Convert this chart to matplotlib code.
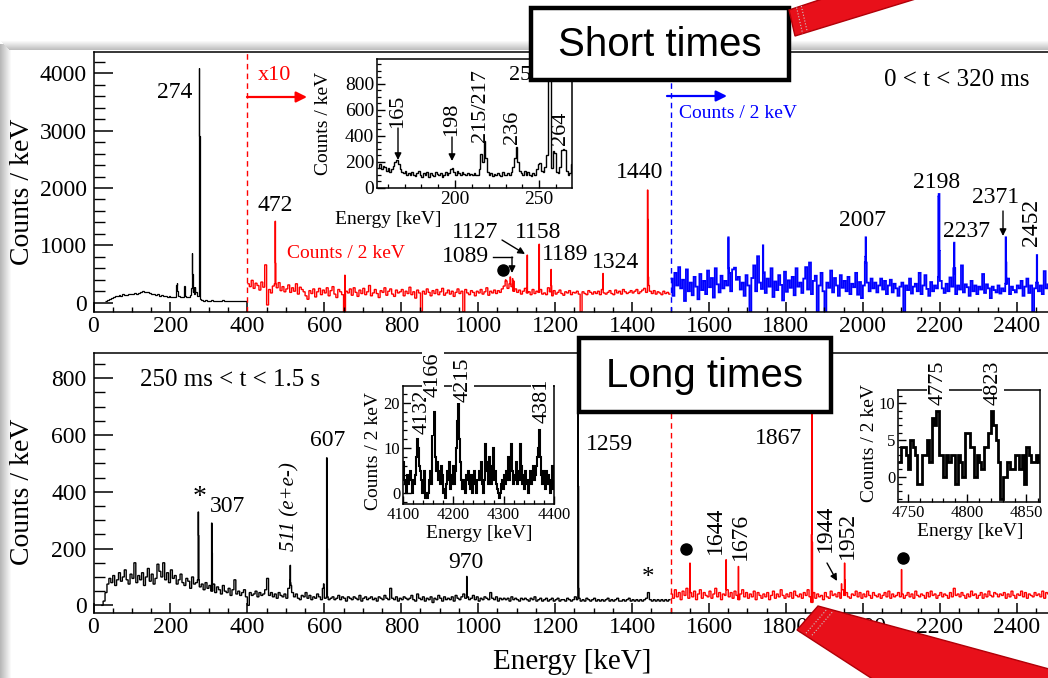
import numpy as np
import matplotlib
matplotlib.use("Agg")
import matplotlib.pyplot as plt
from matplotlib.patches import Rectangle, Polygon, FancyArrowPatch
from matplotlib.lines import Line2D
from matplotlib.ticker import MultipleLocator

# ---------------- data ----------------
# top panel, 0 < t < 320 ms (background in 5 keV steps, peaks in 1 keV bins)
TOP_BLACK_START = 30
TOP_BLACK_BG = [35, 45, 60, 80, 105, 110, 120, 140, 125, 150, 135, 140, 155, 145, 150, 165, 160, 175, 190, 200,
                185, 195, 180, 170, 160, 150, 140, 145, 125, 130, 110, 115, 100, 110, 105, 95, 100, 120, 110, 100,
                105, 115, 105, 100, 140, 180, 150, 180, 120, 60, 40, 35, 40, 30, 35, 40, 30, 35, 30, 35,
                30, 40, 35, 30, 35, 30, 35, 30, 35, 30, 35, 30, 35, 30]
TOP_BLACK_PEAKS = [(215, 300), (216, 260), (217, 350), (218, 200), (236, 290), (237, 200), (254, 250),
                   (255, 600), (256, 870), (257, 500), (259, 260), (260, 270), (263, 250), (264, 280),
                   (265, 180), (273, 900), (274, 4100), (275, 2900), (276, 300)]

TOP_RED_START = 400
TOP_RED_BG = [330, 280, 390, 250, 340, 300, 220, 360, 270, 660,
              -40, 230, 170, 290, 330, 260, 350, 210, 280, 190,
              240, 310, 180, 260, 200, 330, 150, 270, 230, 190,
              120, 60, 210, 160, 240, 100, 190, 250, 140, 220,
              170, 260, 120, 210, 280, 150, 90, 230, 190, 140,
              -160, 200, 170, 240, 130, 260, 180, 110, 220, 160,
              250, 140, 190, 300, 120, 170, 230, 160, 90, 210,
              180, 260, 130, 200, 240, 150, 110, 220, 170, 190,
              230, 120, 200, 160, 270, 140, 190, 80, 220, 170,
              -150, 200, 150, 240, 180, 120, 210, 160, 230, 140,
              190, 250, 130, 170, 220, 150, 200, 110, 180, 240,
              160, 200, -160, 230, 170, 140, 210, 180, 120, 200,
              170, 230, 150, 190, 260, 130, 200, 170, 220, 160,
              210, 180, 240, 290, 380, 250, 330, 280, 200, 240,
              180, 220, 150, 200, 250, 170, 190, 140, 230, 160,
              200, 180, 230, 150, 170, 140, 260, 190, 120, 210,
              150, 180, 220, 160, 130, 190, 170, 210, 140, 180,
              170, 200, 150, -160, 190, 160, 140, 210, 180, 150,
              190, 160, 200, 140, 230, 170, 150, 180, 210, 160,
              140, 220, 170, 200, 150, 230, 190, 160, 180, 210,
              170, 200, 230, 160, 190, 220, 250, 180, 300, 200,
              160, 210, 150, 190, 170, 140, 200, 160, 180, 150]
TOP_RED_PEAKS = [(472, 1420), (473, 690), (653, 480), (1071, 400), (1083, 450), (1089, 420), (1092, 380),
                 (1127, 830), (1158, 1020), (1189, 580), (1190, 300), (1324, 510), (1440, 1965),
                 (1441, 1450), (1442, 450)]

TOP_BLUE_START = 1500
TOP_BLUE_BG = [420, 120, 520, 300, 620, 250, 400, 30, 580, 200,
               350, 130, 450, 280, 60, 500, 220, 380, 150, 560,
               270, 430, 90, 600, 320, 180, 470, 250, 380, 300,
               520, 200, 580, 610, 400, 450, 230, 350, 120, 480,
               300, -160, 430, 650, 200, 810, 350, 240, 530, 170,
               420, 280, 600, 100, 370, 220, 480, 310, 40, 540,
               190, 390, 260, 450, 130, 600, 280, 350, 170, 420,
               620, 230, 700, 150, 380, 470, -160, 300, 520, 200,
               -160, 350, 260, 560, 180, 430, 300, 120, 480, 260,
               380, 200, 450, 150, 330, 270, 520, 140, 360, 80,
               300, 700, 350, 200, 420, 250, 350, 180, 300, 420,
               230, 380, 150, 300, 400, 180, 330, 250, 120, 280,
               350, -160, 300, 220, 420, 160, 280, 330, 200, 520,
               150, 300, 480, 240, 120, 360, 200, 300, 250, 450,
               380, 250, 170, 330, 200, 440, 280, 600, 150, 300,
               230, 650, 180, 320, 270, 120, 380, 200, 300, 150,
               280, 230, 500, 170, 320, 250, 80, 280, 220, 180,
               300, 160, 250, 200, 330, 420, 150, 280, 220, 180,
               300, 250, 380, 120, 280, 420, 170, 300, -160, 250,
               350, 200, 300, 150, 550, 250, 320, 180, 260, 200]
TOP_BLUE_PEAKS = [(1650, 1140), (1651, 600), (1740, 1000), (2006, 800), (2007, 1140), (2008, 700),
                  (2196, 1850), (2197, 1895), (2198, 1895), (2199, 900), (2237, 1046), (2238, 500),
                  (2371, 1140), (2372, 700), (2452, 830)]

# inset of top panel (1 keV bins from 154 keV)
INSET_TOP_START = 154
INSET_TOP = [150, 180, 140, 170, 160, 130, 150, 120, 140, 170, 200, 210, 180, 140, 120, 110,
             130, 100, 110, 95, 120, 100, 90, 115, 130, 100,
             85, 110, 95, 120, 80, 110, 100, 90, 120, 105,
             95, 110, 80, 100, 120, 95, 110, 140, 155, 120,
             100, 130, 110, 95, 120, 105, 100, 110, 95, 105,
             100, 110, 95, 100, 140, 260, 200, 360, 230, 120,
             100, 110, 90, 105, 95, 110, 100, 90, 120, 100,
             95, 110, 100, 120, 160, 230, 310, 200, 130, 110,
             100, 130, 95, 120, 100, 90, 110, 100, 140, 180,
             190, 130, 120, 160, 250, 1200, 1200, 150, 280, 270,
             120, 110, 160, 290, 300, 290, 130, 100, 110, 180]

# bottom panel, 250 ms < t < 1.5 s
BOT_BLACK_START = 20
BOT_BLACK_BG = [0, 15, 45, 75, 95, 80, 105, 70, 90, 115,
                85, 100, 125, 90, 75, 110, 95, 150, 80, 105,
                90, 115, 70, 100, 130, 85, 110, 75, 95, 145,
                120, 100, 150, 90, 115, 80, 125, 95, 105, 75,
                90, 110, 80, 70, 95, 85, 60, 100, 75, 80,
                90, 65, 75, 55, 80, 60, 70, 50, 75, 45,
                65, 55, 40, 70, 50, 45, 60, 35, 55, 90,
                40, 50, 35, 45, 55, 30, 0, 45, 35, 40,
                50, 30, 45, 35, 40, 55, 95, 35, 45, 30,
                40, 25, 45, 35, 30, 40, 25, 60, 70, 45,
                30, 40, 25, 20, 35, 30, 45, 25, 35, 20,
                30, 25, 40, 30, 20, 60, 25, 30, 20, 25,
                30, 20, 25, 35, 20, 30, 25, 15, 30, 25,
                20, 30, 25, 20, 35, 15, 25, 30, 20, 25,
                30, 20, 25, 15, 30, 25, 20, 35, 25, 20,
                60, 25, 20, 30, 15, 25, 20, 30, 25, 20,
                25, 35, 20, 15, 40, 25, 20, 30, 15, 25,
                20, 30, 10, 25, 20, 35, 25, 15, 30, 20,
                25, 20, 30, 15, 35, 25, 20, 30, 40, 25,
                30, 20, 25, 35, 20, 30, 15, 25, 20, 30,
                25, 20, 45, 25, 20, 30, 15, 25, 20, 25,
                20, 25, 15, 30, 20, 25, 20, 15, 25, 20,
                25, 20, 15, 25, 20, 30, 15, 20, 25, 15,
                20, 25, 15, 20, 25, 15, 20, 25, 15, 20,
                20, 15, 25, 20, 15, 20, 30, 20, 25, 15,
                20, 15, 25, 20, 15, 20, 25, 15, 20, 15,
                20, 15, 20, 25, 15, 20, 15, 20, 25, 15,
                15, 20, 15, 20, 25, 15, 20, 15, 20, 15,
                20, 15, 20, 25, 45, 20, 15, 20, 15, 20,
                15, 20, 15, 20, 15, 20]
BOT_BLACK_PEAKS = [(272, 329), (273, 246), (307, 290), (308, 184), (510, 90), (511, 141), (512, 80),
                   (598, 76), (606, 520), (607, 200), (970, 102), (1259, 760), (1260, 420), (1261, 60)]

BOT_RED_START = 1500
BOT_RED_BG = [40, 25, 55, 30, 45, 20, 50, 35, 60, 25,
              45, 30, 50, 20, 40, 55, 25, 45, 35, 30,
              50, 25, 40, 60, 30, 45, 20, 40, 35, 55,
              30, 45, 25, 50, 35, 20, 40, 55, 30, 45,
              25, 40, 30, 50, 20, 45, 35, 25, 40, 30,
              45, 20, 35, 50, 25, 40, 30, 55, 35, 25,
              40, 30, 45, 25, 50, 35, 30, 40, 25, 45,
              35, 55, 30, 10, 45, 25, 40, 30, 35, 20,
              45, 30, 25, 50, 35, 40, 30, 45, 25, 55,
              35, 45, 30, 25, 40, 35, 50, 30, 45, 25,
              40, 30, 50, 35, 25, 45, 35, 30, 40, 25,
              35, 45, 30, 50, 25, 40, 30, 35, 45, 30,
              40, 25, 35, 45, 30, 40, 25, 50, 35, 30,
              40, 35, 25, 45, 30, 50, 35, 40, 25, 35,
              45, 30, 40, 35, 25, 45, 30, 60, 35, 40,
              30, 45, 35, 25, 40, 30, 50, 35, 40, 25,
              35, 45, 25, 40, 30, 50, 35, 30, 45, 40,
              30, 40, 35, 45, 25, 40, 30, 50, 35, 25,
              40, 35, 50, 30, 45, 25, 40, 35, 30, 45,
              35, 40, 30, 50, 25, 45, 40, 35, 30, 40]
BOT_RED_PEAKS = [(1550, 149), (1644, 161), (1676, 137), (1866, 250), (1867, 1500), (1868, 223),
                 (1944, 76), (1952, 149), (1953, 90), (2100, 126)]

# insets of bottom panel (2 keV bins)
INSET_B1_START = 4100
INSET_B1 = [7, 3, 2, 0, 4, 2, 3, 5, 3, 0, 3, 2, 4, 8, 12, 10, 6, 5, 3, 0,
            2, 5, -1, 0, -1, 0, 3, 5, 2, 13, 14, 18, 8, 5, 7, 3, 5, 2, 6, 4,
            0, 1, -1, 2, 5, 3, 7, 1, 4, 2, 6, 2, 5, 10, 16, 20, 12, 7, 3, 1,
            3, 2, 0, 4, 3, 5, 2, 1, 4, 0, 3, 5, 2, 0, 3, 5, 3, 7, 2, 0,
            3, 11, 5, 7, 2, 8, 4, 2, 6, 10, 3, 5, 2, 1, 0, -1, 0, 2, 3, 1,
            4, 2, 5, 3, 8, 3, 6, 11, 5, 2, 3, 4, 7, 2, 5, 3, 11, 6, 2, 4,
            1, 5, 3, 2, 0, 3, 5, 2, 4, 6, 3, 4, 6, 8, 10, 14, 8, 4, 2, 5,
            3, 1, 5, 2, 4, 2, 0, 3, 6, 1]
INSET_B2_START = 4742
INSET_B2 = [2, 4, 4, 3, 1, 5, 4, 3, -1, -1, 3, 3, 5, 2, 8, 7, 9, 3, 3, 0,
            3, 2, 3, 3, -1, 3, 2, 0, 6, 6, 4, 4, 0, 3, 2, 1, 4, 4, 6, 9,
            7, 5, 2, -3, 0, 0, 2, 1, 1, 3, 3, 1, 3, -1, 4, 3, 2, 2, 3, 2]

# ---------------- figure ----------------
W, H = 1048, 678
plt.rcParams['font.family'] = ['Liberation Serif', 'DejaVu Serif']
plt.rcParams['axes.linewidth'] = 1.1
fig = plt.figure(figsize=(W / 100, H / 100), dpi=100)
fig.patch.set_facecolor('white')
SANS = ['Liberation Sans', 'DejaVu Sans']
KEV_PX = 0.3847


def fx(x):
    return x / W


def fy(y):
    return 1 - y / H


def add_ax(l, t, r, b, **kw):
    return fig.add_axes([fx(l), fy(b), (r - l) / W, (b - t) / H], **kw)


def T(x, y, s, size=17, rot=0, color='black', ha='center', va='center', **kw):
    return fig.text(fx(x), fy(y), s, fontsize=size, rotation=rot, color=color,
                    ha=ha, va=va, **kw)


def arrow(p0, p1, color='black', lw=1.2, ms=12, z=12):
    a = FancyArrowPatch((fx(p0[0]), fy(p0[1])), (fx(p1[0]), fy(p1[1])),
                        transform=fig.transFigure, arrowstyle='-|>',
                        mutation_scale=ms, color=color, lw=lw, zorder=z,
                        shrinkA=0, shrinkB=0)
    fig.add_artist(a)


def spectrum(start, width, bg, peaks):
    fine = np.repeat(np.asarray(bg, float), width)
    for e, h in peaks:
        fine[e - start] = h
    edges = start + np.arange(len(fine) + 1)
    return edges, fine


def binned(start, width, vals):
    vals = np.asarray(vals, float)
    return start + width * np.arange(len(vals) + 1), vals


def style_main(ax, ymaj, ymin):
    ax.xaxis.set_major_locator(MultipleLocator(200))
    ax.xaxis.set_minor_locator(MultipleLocator(50))
    ax.yaxis.set_major_locator(MultipleLocator(ymaj))
    ax.yaxis.set_minor_locator(MultipleLocator(ymin))
    ax.tick_params(axis='y', which='major', direction='in', length=13.5, width=1.1,
                   labelsize=17, pad=5)
    ax.tick_params(axis='y', which='minor', direction='in', length=8, width=1.0)
    ax.tick_params(axis='x', which='major', direction='in', length=7, width=1.1,
                   labelsize=17, pad=3)
    ax.tick_params(axis='x', which='minor', direction='in', length=3.5, width=1.0)
    ax.set_xlim(0, 2500)


# ---- top main panel ----
ax1 = add_ax(93.5, 52, 93.5 + 2500 * KEV_PX, 311.7)
ax1.set_ylim(-157, 4371)
style_main(ax1, 1000, 200)
e, v = spectrum(TOP_BLACK_START, 5, TOP_BLACK_BG, TOP_BLACK_PEAKS)
ax1.stairs(v, e, color='black', lw=0.9, baseline=None)
e, v = spectrum(TOP_RED_START, 5, TOP_RED_BG, TOP_RED_PEAKS)
ax1.stairs(v, e, color='#ff0000', lw=1.0, baseline=None)
e, v = spectrum(TOP_BLUE_START, 5, TOP_BLUE_BG, TOP_BLUE_PEAKS)
ax1.stairs(v, e, color='#0000ff', lw=1.3, baseline=None)
ax1.axvline(400, color='#ff0000', lw=1.0, ls=(0, (4, 3)))
ax1.axvline(1500, color='#0000ff', lw=1.0, ls=(0, (4, 3)))
ax1.plot([1064], [570], 'o', color='black', ms=8, clip_on=False)

# ---- bottom main panel ----
ax2 = add_ax(93.5, 353.3, 93.5 + 2500 * KEV_PX, 613.3)
ax2.set_ylim(-28, 888)
style_main(ax2, 200, 50)
e, v = spectrum(BOT_BLACK_START, 5, BOT_BLACK_BG, BOT_BLACK_PEAKS)
ax2.stairs(v, e, color='black', lw=1.0, baseline=None)
e, v = spectrum(BOT_RED_START, 5, BOT_RED_BG, BOT_RED_PEAKS)
ax2.stairs(v, e, color='#ff0000', lw=1.0, baseline=None)
ax2.axvline(1500, color='#ff0000', lw=1.0, ls=(0, (4, 3)))
ax2.plot([1540, 2104], [197, 166], 'o', color='black', ms=8, clip_on=False)


# ---- insets ----
def style_inset(ax, xmaj, xmin, ymaj, ymin, lsize):
    ax.xaxis.set_major_locator(MultipleLocator(xmaj))
    ax.xaxis.set_minor_locator(MultipleLocator(xmin))
    ax.yaxis.set_major_locator(MultipleLocator(ymaj))
    ax.yaxis.set_minor_locator(MultipleLocator(ymin))
    ax.tick_params(which='major', direction='in', length=6, width=1.0, labelsize=lsize, pad=2)
    ax.tick_params(which='minor', direction='in', length=3, width=0.9)
    ax.set_facecolor('white')


axi = add_ax(377, 59, 572, 188.3, zorder=5)
axi.set_xlim(153.6, 269.5)
axi.set_ylim(-5, 990)
style_inset(axi, 50, 10, 200, 50, 14)
e, v = binned(INSET_TOP_START, 1, INSET_TOP)
axi.stairs(v, e, color='black', lw=1.0, baseline=None)
T(324, 123, 'Counts / keV', size=14, rot=90)
T(388, 220, 'Energy [keV]', size=14)

axb1 = add_ax(403, 386, 554, 504, zorder=5)
axb1.set_xlim(4100, 4400)
axb1.set_ylim(-2.4, 23.8)
style_inset(axb1, 100, 20, 10, 2, 12)
e, v = binned(INSET_B1_START, 2, INSET_B1)
axb1.stairs(v, e, color='black', lw=1.5, baseline=None)
T(374, 451, 'Counts / 2 keV', size=14, rot=90)
T(479, 533, 'Energy [keV]', size=14)

axb2 = add_ax(898, 390, 1040, 502, zorder=5)
axb2.set_xlim(4741.6, 4861.5)
axb2.set_ylim(-3.45, 11.8)
style_inset(axb2, 50, 10, 5, 1, 12)
e, v = binned(INSET_B2_START, 2, INSET_B2)
axb2.stairs(v, e, color='black', lw=2.0, baseline=None)
T(870, 443, 'Counts / 2 keV', size=14, rot=90)
T(970, 532, 'Energy [keV]', size=14)

# ---- axis titles ----
T(23, 192, 'Counts / keV', size=20, rot=90)
T(23, 492, 'Counts / keV', size=20, rot=90)
T(572, 662, 'Energy [keV]', size=21)

# ---- top annotations ----
T(175, 93, '274')
T(275, 206, '472')
T(274, 75, 'x10', size=16, color='#ff0000')
arrow((247, 97), (307, 97), color='#ff0000', lw=1.6, ms=16)
T(346, 253, 'Counts / 2 keV', size=14, color='#ff0000')
T(640, 173, '1440')
T(475, 233, '1127')
T(538, 233, '1158')
T(465, 257, '1089')
T(565, 255, '1189')
T(616, 263, '1324')
T(862, 220, '2007')
T(937, 182, '2198')
T(967, 232, '2237')
T(996, 197, '2371')
T(1031, 222, '2452', rot=90)
arrow((667, 96), (727, 96), color='#0000ff', lw=1.6, ms=16)
T(738, 114, 'Counts / 2 keV', size=14, color='#0000ff')
T(957, 80, '0 < t < 320 ms', size=18)
arrow((502, 240), (525, 254), lw=1.0, ms=10)
fig.add_artist(Line2D([fx(493), fx(512)], [fy(257), fy(257)], color='black', lw=1.0,
                      transform=fig.transFigure, zorder=12))
arrow((512, 257), (512, 273), lw=1.0, ms=10)
arrow((1003, 211), (1003, 236), lw=1.0, ms=10)
# inset labels
T(398, 111, '165', size=16, rot=90, zorder=8)
T(452, 119, '198', size=16, rot=90, zorder=8)
T(481, 106, '215/217', size=16, rot=90, zorder=8)
T(513, 127, '236', size=16, rot=90, zorder=8)
T(560, 128, '264', size=16, rot=90, zorder=8)
T(526, 75, '256', size=16, zorder=8)
arrow((398, 128), (398, 160), lw=1.0, ms=10)
arrow((452, 137), (452, 161), lw=1.0, ms=10)

# ---- bottom annotations ----
WB = dict(boxstyle='square,pad=0.05', fc='white', ec='none')
T(230, 380, '250 ms < t < 1.5 s', size=18)
T(200, 497, '*', size=20)
T(227, 507, '307')
T(290, 507, '511 (e+e-)', size=15, rot=90, style='italic')
T(328, 440, '607')
T(466, 563, '970')
T(609, 445, '1259')
T(648, 578, '*', size=18)
T(715, 530, '1644', rot=90)
T(740, 536, '1676', rot=90)
T(778, 438, '1867')
T(825, 528, '1944', rot=90)
T(847, 535, '1952', rot=90)
arrow((827, 563), (837, 581), lw=1.0, ms=10)
T(422, 412, '4132', size=16, rot=90, zorder=8, bbox=WB)
T(433, 375, '4166', size=16, rot=90, zorder=8, bbox=WB)
T(463, 380, '4215', size=16, rot=90, zorder=8, bbox=WB)
T(542, 401, '4381', size=16, rot=90, zorder=8, bbox=WB)
T(938, 383, '4775', size=16, rot=90, zorder=8, bbox=WB)
T(993, 383, '4823', size=16, rot=90, zorder=8, bbox=WB)

# ---- slide decoration: shadow frame, boxes, red pointers ----
for i in range(12):
    g = 0.72 + 0.28 * i / 11
    fig.add_artist(Rectangle((fx(i), fy(678)), 1 / W, (678 - 44) / H, transform=fig.transFigure,
                             fc=(g, g, g), ec='none', zorder=1))
for i in range(10):
    g = 1.0 - 0.25 * i / 9
    fig.add_artist(Rectangle((fx(i), fy(41 + i)), (W - i) / W, 1 / H, transform=fig.transFigure,
                             fc=(g, g, g), ec='none', zorder=1))

for (l, t, r, b, s, cx, cy) in [(531, 8, 789, 80, 'Short times', 660, 45),
                                 (579, 338, 831, 412, 'Long times', 705, 376)]:
    fig.add_artist(Rectangle((fx(l), fy(b)), (r - l) / W, (b - t) / H, transform=fig.transFigure,
                             fc='white', ec='black', lw=3.2, zorder=20))
    fig.text(fx(cx), fy(cy), s, fontsize=29, family=SANS, ha='center', va='center', zorder=21)

# red pointer, top right
fig.add_artist(Polygon([(fx(789), fy(10)), (fx(795), fy(36)), (fx(1010), fy(-30)), (fx(1000), fy(-60))],
                       closed=True, transform=fig.transFigure, fc='#e8101a', ec='#b00008', lw=1,
                       zorder=22))
for d in (8, 13):
    fig.add_artist(Line2D([fx(789 + d * 0.95), fx(795 + d * 0.95)], [fy(10 - d * 0.3), fy(36 - d * 0.3)],
                          transform=fig.transFigure, color='#c8c8c8', lw=0.8, ls=':', zorder=23))
# red pointer, bottom
fig.add_artist(Polygon([(fx(797), fy(630)), (fx(818), fy(606)), (fx(1060), fy(672)), (fx(1040), fy(700)),
                        (fx(905), fy(700))],
                       closed=True, transform=fig.transFigure, fc='#e8101a', ec='#b00008', lw=1,
                       zorder=22))
for d in (9, 15):
    fig.add_artist(Line2D([fx(797 + d), fx(818 + d)], [fy(630 + d * 0.35), fy(606 + d * 0.35)],
                          transform=fig.transFigure, color='#c8c8c8', lw=0.8, ls=':', zorder=23))

fig.savefig('out.png', dpi=100)
